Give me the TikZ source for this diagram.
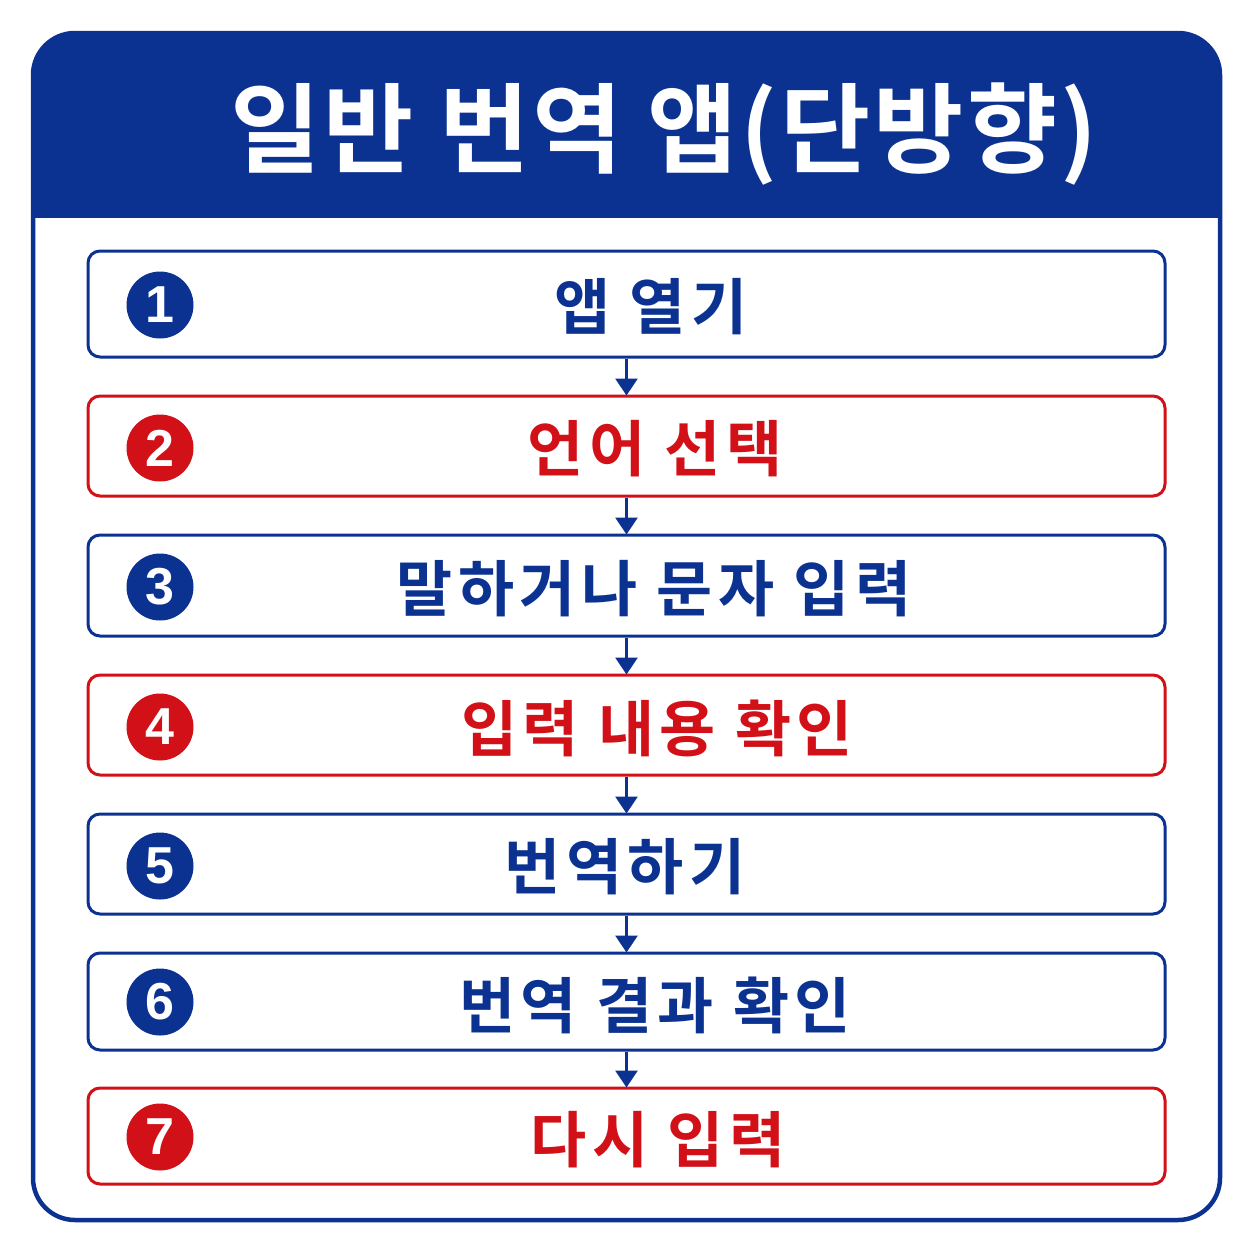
\documentclass[tikz,border=0pt]{standalone}
\usepackage{fontspec}
\newfontfamily\kr{Noto Sans CJK KR}[BoldFont={Noto Sans CJK KR Bold}, LetterSpace=9]
\newfontfamily\krtitle{Noto Sans CJK KR}[BoldFont={Noto Sans CJK KR Bold}, LetterSpace=3]
\newfontfamily\numfont{Liberation Sans}
\usetikzlibrary{arrows.meta}
\definecolor{fblue}{RGB}{12,50,145}
\definecolor{fred}{RGB}{210,16,24}
\tikzset{
  stepbox/.style={draw=#1, line width=3pt, rounded corners=12pt, minimum width=1077pt, inner sep=0pt, fill=white},
  numcirc/.style={circle, fill=#1, minimum size=67pt, inner sep=0pt, text=white, font=\numfont\bfseries\fontsize{52}{52}\selectfont},
  steptext/.style={text=#1, font=\kr\bfseries\fontsize{61}{61}\selectfont, inner sep=0pt, anchor=center},
  arr/.style={draw=fblue, line width=3pt, -{Triangle[width=22pt,length=17pt]}, shorten >=-1pt}
}
\begin{document}
\begin{tikzpicture}[x=1pt,y=-1pt]
\useasboundingbox (0,0) rectangle (1254,1254);
\fill[white] (0,0) rectangle (1254,1254);
% header
\begin{scope}
\clip (0,0) rectangle (1254,217);
\fill[fblue, rounded corners=42pt] (33,33) rectangle (1220,1220);
\end{scope}
\draw[fblue, line width=4.5pt, rounded corners=42pt] (33,33) rectangle (1220,1220);
\node[text=white, font=\krtitle\bfseries\fontsize{98}{98}\selectfont, inner sep=0pt] (title) at (664,134) {일반 번역 앱(단방향)};
% boxes
\node[stepbox=fblue, minimum height=106pt] (b1) at (626.5,304) {};
\node[stepbox=fred,  minimum height=100pt] (b2) at (626.5,446) {};
\node[stepbox=fblue, minimum height=101pt] (b3) at (626.5,585.5) {};
\node[stepbox=fred,  minimum height=100pt] (b4) at (626.5,725) {};
\node[stepbox=fblue, minimum height=100pt] (b5) at (626.5,864) {};
\node[stepbox=fblue, minimum height=97pt]  (b6) at (626.5,1001.5) {};
\node[stepbox=fred,  minimum height=96pt]  (b7) at (626.5,1136) {};
% circles
\node[numcirc=fblue] (n1) at (160,305) {1};
\node[numcirc=fred]  (n2) at (160,448) {2};
\node[numcirc=fblue] (n3) at (160,587) {3};
\node[numcirc=fred]  (n4) at (160,727) {4};
\node[numcirc=fblue] (n5) at (160,866) {5};
\node[numcirc=fblue] (n6) at (160,1002) {6};
\node[numcirc=fred]  (n7) at (160,1137) {7};
% texts
\node[steptext=fblue] (t1) at (651,307) {앱 열기};
\node[steptext=fred]  (t2) at (655,449) {언어 선택};
\node[steptext=fblue] (t3) at (654,589) {말하거나 문자 입력};
\node[steptext=fred]  (t4) at (657,728) {입력 내용 확인};
\node[steptext=fblue] (t5) at (625,867) {번역하기};
\node[steptext=fblue] (t6) at (655,1005) {번역 결과 확인};
\node[steptext=fred]  (t7) at (658,1140) {다시 입력};
% arrows
\draw[arr] (b1.south) -- (b2.north);
\draw[arr] (b2.south) -- (b3.north);
\draw[arr] (b3.south) -- (b4.north);
\draw[arr] (b4.south) -- (b5.north);
\draw[arr] (b5.south) -- (b6.north);
\draw[arr] (b6.south) -- (b7.north);
\end{tikzpicture}
\end{document}
